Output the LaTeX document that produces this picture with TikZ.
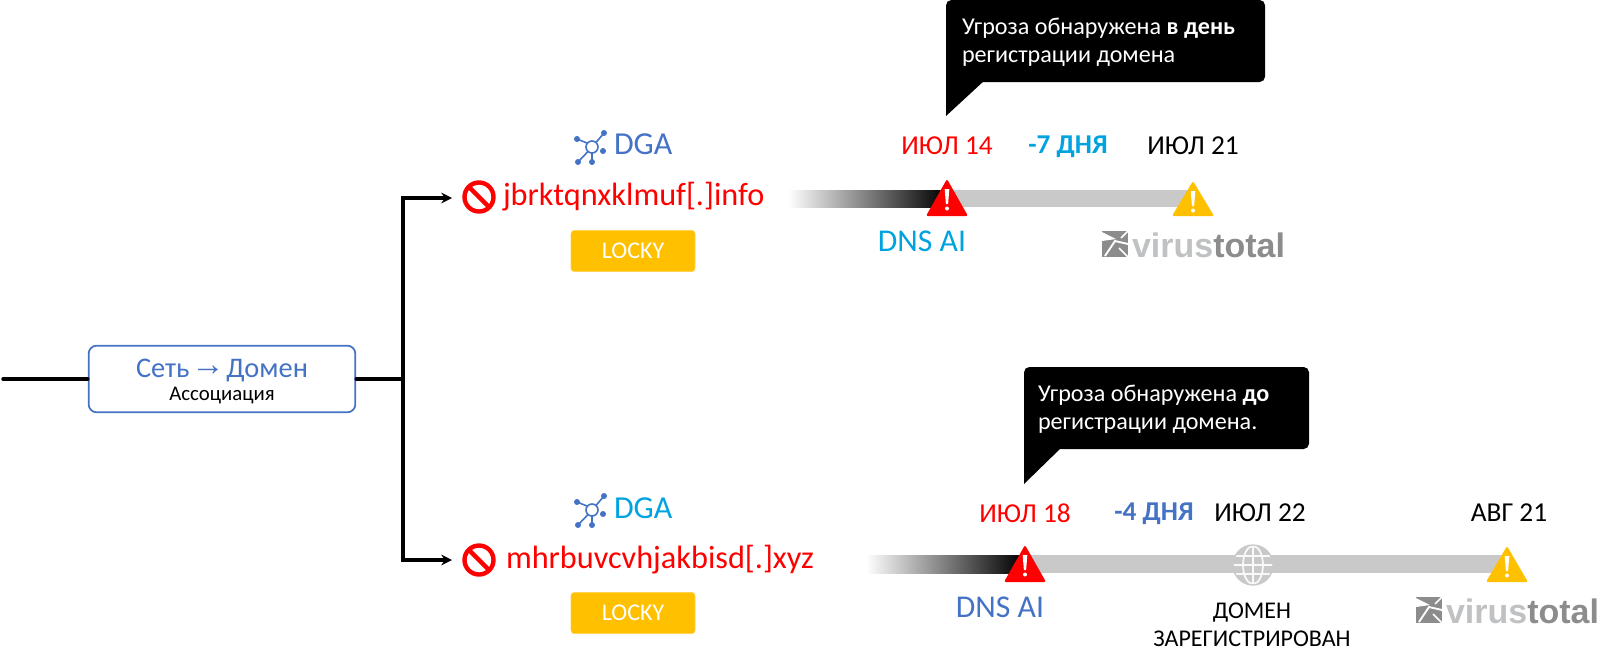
\documentclass[tikz,border=0pt]{standalone}
\usepackage{fontspec}
\setmainfont{Carlito}
\newfontfamily\vtfont{Liberation Sans}
\usetikzlibrary{arrows.meta,shadings}
\definecolor{msblue}{HTML}{4472C4}
\definecolor{skyb}{HTML}{00A3E0}
\definecolor{amber}{HTML}{FFC000}
\definecolor{barg}{HTML}{C9C9C9}
\definecolor{vtlight}{HTML}{BFC1C3}
\definecolor{vtdark}{HTML}{8C8C8C}
\tikzset{
  x=0.75pt,y=-0.75pt,
  txt/.style={inner sep=0pt,outer sep=0pt,align=center},
  datelbl/.style={txt,font=\fontsize{20.5}{24}\selectfont},
  domainlbl/.style={txt,anchor=west,text=red,font=\fontsize{24.2}{28}\selectfont},
  dgalbl/.style={txt,anchor=west,text=msblue,font=\fontsize{24}{28}\selectfont},
  dnslbl/.style={txt,font=\fontsize{23.8}{28}\selectfont},
  lockybox/.style={fill=amber,draw=amber!70!white,line width=.4pt,rounded corners=2.5pt,text=white,minimum width=93pt,minimum height=31pt,inner sep=0pt,font=\fontsize{18}{20}\selectfont},
  wire/.style={line width=2.6pt,black,line cap=round},
  arrowwire/.style={line width=2.6pt,black,-{Stealth[length=8pt,width=8pt]}},
  callout/.style={fill=black,rounded corners=4pt},
  calltxt/.style={txt,anchor=west,align=left,text=white,font=\fontsize{18.1}{21}\selectfont},
  bar/.style={fill=barg,draw=none},
}
\newcommand\warntri[4]{% x,y apex,y base,color
  \fill[#4,rounded corners=1.5pt] (#1,#2) -- (#1+21,#3) -- (#1-21,#3) -- cycle;
  \fill[white] (#1-2.3,#2+10) -- (#1+2.3,#2+10) -- (#1+1.1,#2+25) -- (#1-1.1,#2+25) -- cycle;
  \fill[white] (#1,#2+29.5) circle (2);
}
\newcommand\banicon[2]{%
  \draw[red,line width=3.3pt] (#1,#2) circle (14.5);
  \draw[red,line width=3.3pt] (#1-10.2,#2-10.2) -- (#1+10.2,#2+10.2);
}
\newcommand\dgaicon[2]{%
  \begin{scope}[shift={(#1,#2)},msblue]
    \draw[line width=1.2pt] (0,0) circle (6);
    \draw[line width=1.2pt] (-4.6,-3.8) -- (-15,-8) (4,-4.5) -- (12,-14) (-4,4.5) -- (-14,15) (0,6) -- (0,15);
    \fill (-15,-8) circle (3) (12,-14) circle (3) (-14,15) circle (3) (0,15) circle (3) (11,4) circle (3);
  \end{scope}
}
\newcommand\vtlogo[3]{% x left, y top of icon, name
  \begin{scope}[shift={(#1,#2)}]
    \fill[vtdark] (0,0) -- (26,0) -- (26,26) -- (0,26) -- cycle;
    \fill[white] (0,1) -- (14,8) -- (0,10) -- cycle;
    \draw[white,line width=1.4pt] (3,25) -- (13,10) -- (26,13);
    \draw[white,line width=1.2pt] (26,0) -- (19,7) (26,26) -- (17,17);
    \node[txt,anchor=base west,font=\vtfont\bfseries\fontsize{25.5}{26}\selectfont] (#3) at (30,26)
      {\textcolor{vtlight}{virus}\textcolor{vtdark}{total}};
  \end{scope}
}
\newcommand\globe[2]{%
  \begin{scope}[shift={(#1,#2)}]
    \fill[barg] (0,0) circle (20);
    \draw[white!88!barg,line width=1.3pt] (0,-20) -- (0,20) (-20,0) -- (20,0) (-17,-9) -- (17,-9) (-17,9) -- (17,9);
    \draw[white!88!barg,line width=1.3pt] (0,0) ellipse (10 and 19);
    \draw[barg,line width=1pt] (0,0) circle (20);
  \end{scope}
}
\begin{document}
\begin{tikzpicture}
\useasboundingbox (0,0) rectangle (1600,669);
% callouts
\fill[callout] (946,0) rectangle (1265,82);
\fill[callout] (1024,367) rectangle (1309,449);
\fill[black] (946,70) -- (946,116) -- (985,80) -- cycle;
\fill[black] (1024,437) -- (1024,484) -- (1062,447) -- cycle;
\node[calltxt] (c1) at (962,42) {Угроза обнаружена \textbf{в день}\\регистрации домена};
\node[calltxt] (c2) at (1038,409) {Угроза обнаружена \textbf{до}\\регистрации домена.};
% source box and wires
\coordinate (start) at (3,379);
\coordinate (junction) at (403,379);
\coordinate (topturn) at (403,198);
\coordinate (botturn) at (403,560);
\node[draw=msblue,line width=1.3pt,fill=white,rounded corners=6pt,minimum width=200pt,minimum height=50pt,inner sep=0pt] (assoc) at (222,379) {};
\node[txt,text=msblue,font=\fontsize{21.3}{24}\selectfont] (assoc1) at (222,370) {Сеть {\vtfont\fontsize{25}{20}\selectfont\kern-3.5pt\raisebox{1pt}{→}\kern-3.5pt} Домен};
\node[txt,font=\fontsize{15.6}{18}\selectfont] (assoc2) at (222,396) {Ассоциация};
\draw[wire] (start) -- (assoc.west);
\draw[wire] (assoc.east) -- (junction);
\coordinate (toptip) at (452,198);
\coordinate (bottip) at (452,560);
\draw[arrowwire] (junction) -- (topturn) -- (toptip);
\draw[arrowwire] (junction) -- (botturn) -- (bottip);
% top row
\dgaicon{592}{147}
\node[dgalbl] (dga1) at (614,144) {DGA};
\banicon{479}{197}
\node[domainlbl] (dom1) at (503,197) {jbrktqnxklmuf[.]info};
\node[lockybox] (lock1) at (633,251) {LOCKY};
\shade[left color=white,right color=black] (788,190) rectangle (945,207);
\fill[bar] (945,190) rectangle (1190,207);
\warntri{947}{179}{216}{red}
\warntri{1193}{181}{216}{amber}
\node[datelbl,text=red] (d1) at (947,146) {ИЮЛ 14};
\node[datelbl,text=skyb,font=\bfseries\fontsize{20.4}{24}\selectfont] (g1) at (1068,147) {-7 ДНЯ};
\node[datelbl] (d2) at (1193,146) {ИЮЛ 21};
\node[dnslbl,text=skyb] (dns1) at (922,241) {DNS AI};
\vtlogo{1102}{231}{vt1}
% bottom row
\dgaicon{592}{510}
\node[dgalbl] (dga2) at (614,508) {\textcolor{skyb}{DGA}};
\banicon{479}{560}
\node[domainlbl] (dom2) at (506,560) {mhrbuvcvhjakbisd[.]xyz};
\node[lockybox] (lock2) at (633,613) {LOCKY};
\shade[left color=white,right color=black] (866,555) rectangle (1022,573);
\fill[bar] (1022,555) rectangle (1505,573);
\warntri{1025}{545}{582}{red}
\globe{1253}{565}
\warntri{1507}{546}{582}{amber}
\node[datelbl,text=red] (d3) at (1025,513) {ИЮЛ 18};
\node[datelbl,text=msblue,font=\bfseries\fontsize{20.4}{24}\selectfont] (g2) at (1154,514) {-4 ДНЯ};
\node[datelbl] (d4) at (1260,513) {ИЮЛ 22};
\node[datelbl] (d5) at (1509,513) {АВГ 21};
\node[dnslbl,text=msblue] (dns2) at (1000,607) {DNS AI};
\node[txt,font=\fontsize{18}{21}\selectfont] (reg) at (1252,625) {ДОМЕН\\ЗАРЕГИСТРИРОВАН};
\vtlogo{1416}{597}{vt2}
\end{tikzpicture}
\end{document}
